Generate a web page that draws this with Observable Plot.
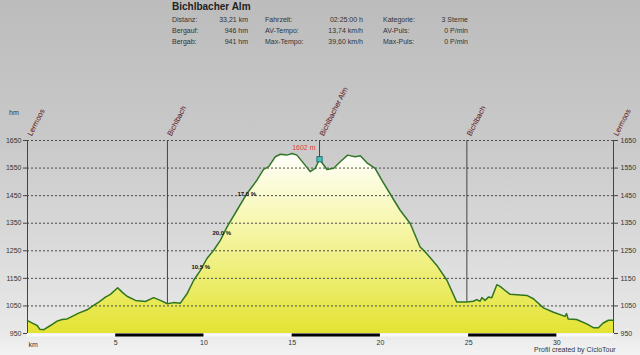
<!DOCTYPE html>
<html>
<head>
<meta charset="utf-8">
<script src="https://cdn.jsdelivr.net/npm/d3@7"></script>
<script src="https://cdn.jsdelivr.net/npm/@observablehq/plot@0.6"></script>
<style>
  html, body { margin: 0; padding: 0; }
  #wrap { position: relative; width: 640px; height: 355px; overflow: hidden;
    background: linear-gradient(to bottom, #bcbcbc 0px, #c9c9c9 140px, #e9e9e9 333px, #f3f3f3 355px);
    font-family: "Liberation Sans", Arial, sans-serif; color: #333; }
  #wrap svg { position: absolute; left: 0; top: 0; }
  .t { position: absolute; white-space: nowrap; font-size: 7px; line-height: 1; color: #333; }
  .r { text-align: right; }
</style>
</head>
<body>
<div id="wrap"></div>
<script>
// ---- data ----
const title = "Bichlbacher Alm";
const statLabels1 = ["Distanz:", "Bergauf:", "Bergab:"];
const statValues1 = ["33,21 km", "946 hm", "941 hm"];
const statLabels2 = ["Fahrzeit:", "AV-Tempo:", "Max-Tempo:"];
const statValues2 = ["02:25:00 h", "13,74 km/h", "39,60 km/h"];
const statLabels3 = ["Kategorie:", "AV-Puls:", "Max-Puls:"];
const statValues3 = ["3 Sterne", "0 P/min", "0 P/min"];

const kmValues = [0, 0.36, 0.55, 0.7, 0.92, 1.3, 1.68, 1.96, 2.25, 2.62, 2.9, 3.38, 3.66, 4.04, 4.42, 4.7, 5.11, 5.36, 5.64, 6.12, 6.68, 7.15, 7.53, 7.93, 8.28, 8.66, 9.04, 9.42, 9.8, 10.17, 10.55, 10.93, 11.31, 11.87, 12.44, 13.0, 13.38, 13.67, 14.04, 14.33, 14.7, 15.0, 15.27, 15.65, 16.02, 16.3, 16.55, 16.97, 17.35, 17.72, 18.14, 18.57, 18.86, 19.24, 19.7, 20.08, 20.65, 21.12, 21.69, 22.25, 22.54, 23.2, 23.77, 24.33, 24.9, 25.27, 25.46, 25.65, 25.75, 25.93, 26.12, 26.31, 26.6, 26.78, 27.07, 27.35, 28.3, 28.67, 29.24, 29.81, 30.46, 30.55, 30.64, 31.12, 31.69, 32.07, 32.35, 32.63, 32.92, 33.21];
const elevValues = [997, 985, 979, 965, 964, 979, 995, 1001, 1003, 1015, 1024, 1036, 1048, 1064, 1082, 1092, 1116, 1100, 1085, 1070, 1066, 1080, 1070, 1058, 1062, 1060, 1094, 1143, 1179, 1222, 1252, 1288, 1337, 1397, 1458, 1506, 1545, 1555, 1591, 1600, 1597, 1603, 1597, 1567, 1537, 1549, 1582, 1545, 1549, 1573, 1597, 1591, 1595, 1569, 1549, 1506, 1446, 1397, 1349, 1264, 1246, 1197, 1143, 1064, 1064, 1067, 1073, 1067, 1080, 1070, 1082, 1080, 1127, 1121, 1106, 1092, 1088, 1076, 1043, 1027, 1012, 1022, 1003, 1001, 985, 971, 971, 988, 998, 998];

const wpNames = ["Lermoos", "Bichlbach", "Bichlbacher Alm", "Bichlbach", "Lermoos"];
const wpKm = [0, 7.93, 16.55, 24.9, 33.21];
const wpElev = [997, 1058, 1582, 1064, 998];

const peakLabel = "1602 m";
const gradeTexts = ["10,5 %", "20,0 %", "17,0 %"];
const gradeKm = [9.29, 10.48, 11.9];
const gradeElev = [1190, 1314, 1455];

const yTicks = [950, 1050, 1150, 1250, 1350, 1450, 1550, 1650];
const gridTicks = [1050, 1150, 1250, 1350, 1450, 1550, 1650];
const xTicks = [5, 10, 15, 20, 25, 30];
const blackBarStart = [5, 15, 25];
const whiteBarStart = [0, 10, 20, 30];
const totalKm = 33.21;

// ---- tables ----
const profile = kmValues.map((k, i) => ({km: k, elev: elevValues[i]}));
const waypoints = wpNames.map((n, i) => ({name: n, km: wpKm[i], elev: wpElev[i]}));
const innerWp = waypoints.slice(1, 4);
const alm = [waypoints[2]];
const grades = gradeTexts.map((t, i) => ({text: t, km: gradeKm[i], elev: gradeElev[i]}));
const blackBars = blackBarStart.map(s => ({a: s, b: Math.min(s + 5, totalKm)}));
const whiteBars = whiteBarStart.map(s => ({a: s, b: Math.min(s + 5, totalKm)}));

const chart = Plot.plot({
  width: 640, height: 355,
  marginLeft: 27, marginRight: 27, marginTop: 140, marginBottom: 22,
  x: {domain: [0, totalKm]},
  y: {domain: [950, 1650]},
  style: {background: "transparent", fontFamily: "'Liberation Sans', Arial, sans-serif", fontSize: "7px", color: "#333", overflow: "visible"},
  marks: [
    Plot.areaY(profile, {x: "km", y1: 950, y2: "elev", fill: "url(#profFill)", curve: "linear"}),
    Plot.ruleY(gridTicks, {x1: 0, x2: totalKm, stroke: "#4a4a4a", strokeWidth: 1, strokeDasharray: "2,2"}),
    Plot.ruleX([0, totalKm], {y1: 950, y2: 1650, stroke: "#444", strokeWidth: 1}),
    Plot.ruleX(innerWp, {x: "km", y1: 1650, y2: "elev", stroke: "#444", strokeWidth: 1}),
    Plot.line(profile, {x: "km", y: "elev", stroke: "#2f7526", strokeWidth: 1.5}),
    Plot.dot(alm, {x: "km", y: "elev", symbol: "square", r: 3, fill: "#3cc4c4", stroke: "#225555", strokeWidth: 0.8}),
    Plot.text(alm, {x: "km", y: "elev", text: () => peakLabel, dx: -4, dy: -11, textAnchor: "end", fill: "#e23b3b", fontSize: 7}),
    Plot.ruleY(whiteBars, {y: 950, x1: "a", x2: "b", stroke: "#f8f8f8", strokeWidth: 3, dy: 1.5}),
    Plot.ruleY(blackBars, {y: 950, x1: "a", x2: "b", stroke: "#000", strokeWidth: 3, dy: 1.5}),
    Plot.axisY(yTicks, {anchor: "left", tickSize: 4, tickPadding: 2, fontSize: 7, stroke: "#444", label: null, tickFormat: d => String(d)}),
    Plot.axisY(yTicks, {anchor: "right", tickSize: 4, tickPadding: 3, fontSize: 7, stroke: "#444", label: null, tickFormat: d => String(d)}),
    Plot.axisX(xTicks, {anchor: "bottom", tickSize: 0, tickPadding: 7, fontSize: 7, label: null}),
    Plot.text(["km"], {x: 0, y: 950, text: d => d, dx: 1, dy: 11, textAnchor: "start", fontSize: 7, fill: "#333"}),
    Plot.text(waypoints, {x: "km", y: 1650, text: "name", rotate: -63, textAnchor: "start", dx: 2, dy: -5, fill: "#5a0f0f", fontSize: 7.5}),
    Plot.text(grades, {x: "km", y: "elev", text: "text", textAnchor: "start", fontSize: 6, fontWeight: "bold", fill: "#111"})
  ]
});

// gradient for the area fill
const svg = d3.select(chart);
const defs = svg.insert("defs", ":first-child");
const g = defs.append("linearGradient").attr("id", "profFill")
  .attr("gradientUnits", "userSpaceOnUse").attr("x1", 0).attr("x2", 0).attr("y1", 150).attr("y2", 334);
g.append("stop").attr("offset", "0%").attr("stop-color", "#ffffff");
g.append("stop").attr("offset", "35%").attr("stop-color", "#f8f8b8");
g.append("stop").attr("offset", "100%").attr("stop-color", "#e3e332");

const wrap = document.getElementById("wrap");
wrap.appendChild(chart);

// header text overlay
function addText(txt, left, top, cls, extra) {
  const d = document.createElement("div");
  d.className = "t " + (cls || "");
  d.textContent = txt;
  d.style.left = left + "px";
  d.style.top = top + "px";
  if (extra) Object.assign(d.style, extra);
  wrap.appendChild(d);
  return d;
}
addText(title, 172, 2, "", {fontSize: "10px", fontWeight: "bold", color: "#222"});
const rowTops = [16, 27, 38];
rowTops.forEach((t, i) => {
  addText(statLabels1[i], 172, t);
  addText(statValues1[i], 188, t, "r", {width: "60px"});
  addText(statLabels2[i], 265, t);
  addText(statValues2[i], 303, t, "r", {width: "60px"});
  addText(statLabels3[i], 383, t);
  addText(statValues3[i], 408, t, "r", {width: "60px"});
});
addText("hm", 9, 109, "", {fontSize: "7px", color: "#333"});
addText("Profil created by CicloTour", 534, 346, "", {fontSize: "7px"});
</script>
</body>
</html>
